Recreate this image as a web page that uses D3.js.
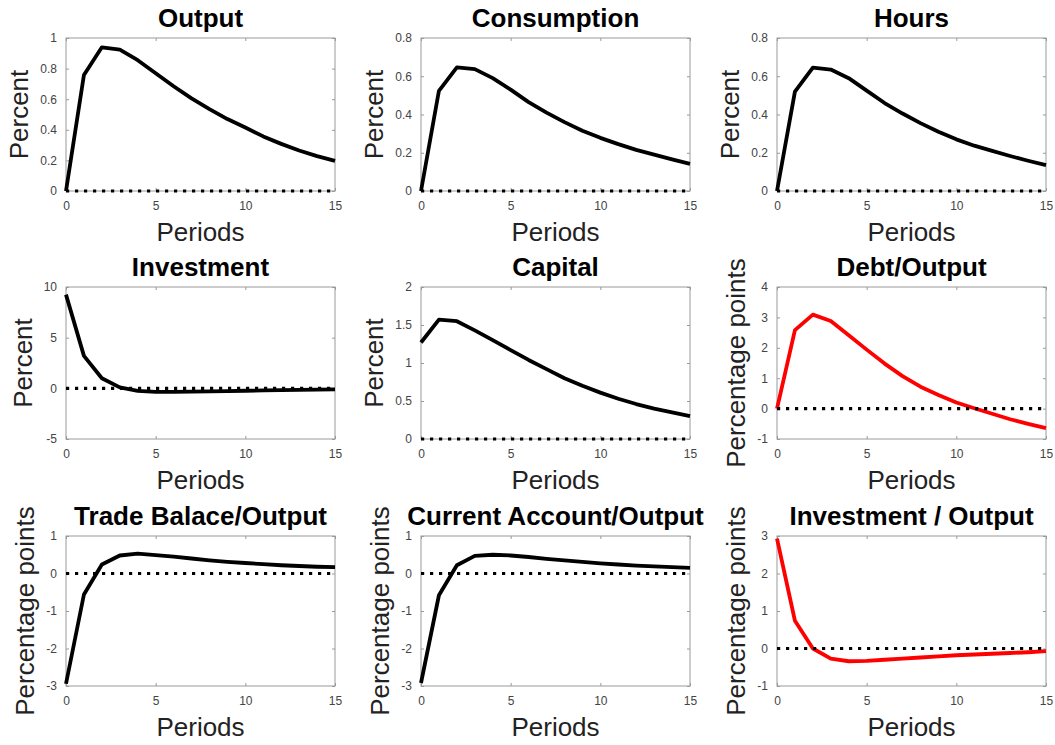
<!DOCTYPE html>
<html><head><meta charset="utf-8">
<script src="https://cdn.jsdelivr.net/npm/d3@7"></script>
<style>
body{margin:0;background:#fff;}
svg{display:block;font-family:"Liberation Sans",Arial,Helvetica,sans-serif;}
</style>
</head><body>
<svg id="chart" width="1055" height="745"></svg>
<script>
// ---------- data ----------
const periods = [0,1,2,3,4,5,6,7,8,9,10,11,12,13,14,15];
const xTicks = [0,5,10,15];

const titles = ["Output","Consumption","Hours","Investment","Capital","Debt/Output",
                "Trade Balace/Output","Current Account/Output","Investment / Output"];
const yLabels = ["Percent","Percent","Percent","Percent","Percent","Percentage points",
                 "Percentage points","Percentage points","Percentage points"];
const xLabel = "Periods";

const outputIRF      = [0,0.758,0.939,0.924,0.855,0.77,0.685,0.605,0.535,0.47,0.415,0.357,0.308,0.265,0.228,0.197];
const consumptionIRF = [0,0.524,0.646,0.637,0.59,0.53,0.465,0.41,0.36,0.315,0.278,0.245,0.215,0.19,0.165,0.142];
const hoursIRF       = [0,0.52,0.645,0.635,0.59,0.525,0.46,0.405,0.355,0.31,0.27,0.237,0.21,0.183,0.158,0.135];
const investmentIRF  = [9.25,3.2,1.0,0.1,-0.25,-0.35,-0.35,-0.33,-0.3,-0.27,-0.24,-0.21,-0.18,-0.15,-0.13,-0.11];
const capitalIRF     = [1.27,1.57,1.55,1.43,1.30,1.17,1.04,0.92,0.80,0.70,0.61,0.53,0.46,0.40,0.35,0.30];
const debtOutputIRF  = [0,2.58,3.09,2.88,2.41,1.94,1.48,1.07,0.72,0.45,0.2,0.01,-0.17,-0.35,-0.5,-0.64];
const tradeBalIRF    = [-2.94,-0.56,0.24,0.48,0.53,0.49,0.45,0.40,0.35,0.31,0.28,0.25,0.22,0.20,0.18,0.17];
const currAcctIRF    = [-2.92,-0.58,0.22,0.47,0.50,0.48,0.44,0.39,0.35,0.31,0.27,0.24,0.21,0.19,0.17,0.15];
const invOutputIRF   = [2.93,0.74,0.0,-0.27,-0.34,-0.33,-0.30,-0.27,-0.24,-0.21,-0.18,-0.16,-0.14,-0.12,-0.10,-0.07];

const seriesList = [outputIRF,consumptionIRF,hoursIRF,investmentIRF,capitalIRF,debtOutputIRF,
                    tradeBalIRF,currAcctIRF,invOutputIRF];

const yTicksList = [
  [0,0.2,0.4,0.6,0.8,1],
  [0,0.2,0.4,0.6,0.8],
  [0,0.2,0.4,0.6,0.8],
  [-5,0,5,10],
  [0,0.5,1,1.5,2],
  [-1,0,1,2,3,4],
  [-3,-2,-1,0,1],
  [-3,-2,-1,0,1],
  [-1,0,1,2,3]
];
const lineColors = ["#000","#000","#000","#000","#000","#ff0000","#000","#000","#ff0000"];

// ---------- layout ----------
const colLeft = [66, 421, 777];
const plotW = 269;
const rowTop = [38, 287, 536];
const rowH = [153, 152, 150];

const svg = d3.select("#chart");

seriesList.forEach((vals, i) => {
  const r = Math.floor(i / 3), c = i % 3;
  const left = colLeft[c], top = rowTop[r], h = rowH[r];
  const yt = yTicksList[i];
  const x = d3.scaleLinear().domain([0, 15]).range([0, plotW]);
  const y = d3.scaleLinear().domain([d3.min(yt), d3.max(yt)]).range([h, 0]);

  const g = svg.append("g").attr("transform", `translate(${left},${top})`);

  // box
  g.append("rect").attr("x", 0).attr("y", 0).attr("width", plotW).attr("height", h)
    .attr("fill", "none").attr("stroke", "#9a9a9a").attr("stroke-width", 1);

  const fmt = v => String(v);
  const axB = g.append("g").attr("transform", `translate(0,${h})`)
    .call(d3.axisBottom(x).tickValues(xTicks).tickSizeInner(-3).tickSizeOuter(0).tickPadding(10).tickFormat(fmt));
  const axT = g.append("g")
    .call(d3.axisTop(x).tickValues(xTicks).tickSizeInner(-3).tickSizeOuter(0).tickFormat(""));
  const axL = g.append("g")
    .call(d3.axisLeft(y).tickValues(yt).tickSizeInner(-3).tickSizeOuter(0).tickPadding(9).tickFormat(fmt));
  const axR = g.append("g").attr("transform", `translate(${plotW},0)`)
    .call(d3.axisRight(y).tickValues(yt).tickSizeInner(-3).tickSizeOuter(0).tickFormat(""));
  [axB, axT, axL, axR].forEach(a => {
    a.select(".domain").remove();
    a.selectAll(".tick line").attr("stroke", "#9a9a9a");
    a.selectAll(".tick text").attr("fill", "#444").attr("font-size", 12)
      .attr("font-family", '"Liberation Sans",Arial,Helvetica,sans-serif');
  });

  const line = d3.line().x((d, k) => x(periods[k])).y(d => y(d));
  g.append("path").datum(vals).attr("d", line)
    .attr("fill", "none").attr("stroke", lineColors[i]).attr("stroke-width", 3.8)
    .attr("stroke-linejoin", "round");

  g.append("line").attr("x1", x(0)).attr("x2", x(15)).attr("y1", y(0)).attr("y2", y(0))
    .attr("stroke", "#000").attr("stroke-width", 3.2).attr("stroke-dasharray", "3.2,5.8");

  g.append("text").attr("x", plotW / 2).attr("y", -11).attr("text-anchor", "middle")
    .attr("font-weight", "bold").attr("font-size", 26).attr("fill", "#000").text(titles[i]);

  g.append("text").attr("x", plotW / 2).attr("y", h + 50).attr("text-anchor", "middle")
    .attr("font-size", 26).attr("fill", "#222").text(xLabel);

  let maxW = 0;
  axL.selectAll(".tick text").each(function () { maxW = Math.max(maxW, this.getComputedTextLength()); });
  const off = 9 + maxW + 12;
  g.append("text").attr("transform", `translate(${-off},${h / 2}) rotate(-90)`)
    .attr("text-anchor", "middle").attr("font-size", 26).attr("fill", "#222").text(yLabels[i]);
});
</script>
</body></html>
